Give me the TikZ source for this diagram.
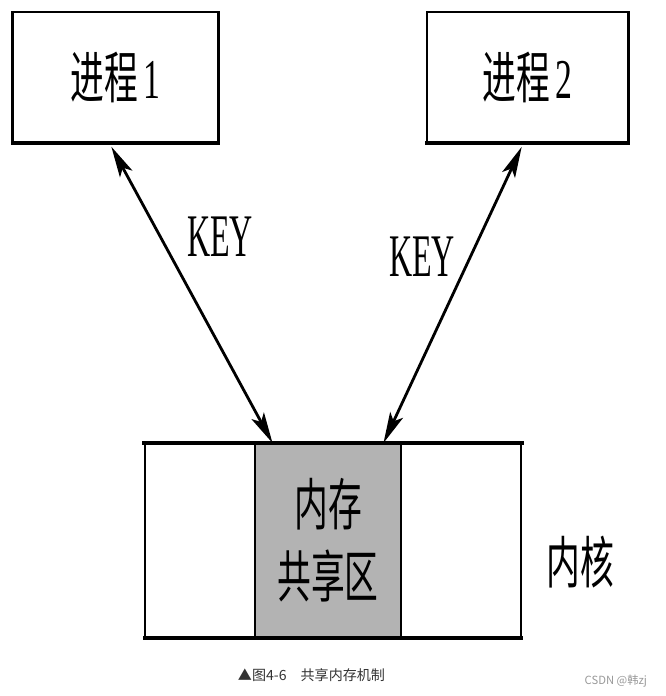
\documentclass[tikz,border=0pt]{standalone}
\usepackage{fontspec}
\usepackage{graphicx}
\setmainfont{Liberation Serif}
\newfontfamily\cjk{Noto Sans CJK SC}
\usepackage{xcolor}
\definecolor{ShmGray}{HTML}{B3B3B3}
\definecolor{CaptionGray}{HTML}{333333}
\definecolor{MarkGray}{HTML}{999999}
\usetikzlibrary{arrows.meta, positioning, calc}
\newcommand{\squeeze}[1]{\scalebox{0.6}[1]{#1}}
\tikzset{
  procbox/.style={rectangle, draw=black, line width=2.1pt, fill=white, outer sep=0pt, minimum height=3.275cm, font=\fontsize{40}{44}\selectfont, align=center},
  cellbox/.style={rectangle, draw=black, line width=1.8pt, fill=white, outer sep=0pt, minimum height=4.875cm},
  shmbox/.style={cellbox, fill=ShmGray, font=\fontsize{40}{45}\selectfont\cjk, align=center, inner sep=0pt},
  keylabel/.style={font=\fontsize{43}{46}\selectfont, inner sep=0pt},
  kernlabel/.style={font=\fontsize{40}{44}\selectfont\cjk, inner sep=0pt},
  keyarrow/.style={{Stealth[length=22pt, width=10pt, inset=5pt]}-{Stealth[length=22pt, width=10pt, inset=5pt]}, line width=2pt, shorten <=3pt},
  bottomedge/.style={line width=3.5pt, line cap=rect}
}
\begin{document}
\begin{tikzpicture}[x=0.025cm, y=-0.025cm]
  \useasboundingbox (0,0) rectangle (665,696);

  % Processes
  \node[procbox, minimum width=5.125cm] (proc1) at (115.5,77.5) {\squeeze{{\cjk 进程}\,1}};
  \node[procbox, minimum width=5.025cm] (proc2) at (527.5,77.5) {\squeeze{{\cjk 进程}\,2}};
  \draw[bottomedge] (proc1.south west) -- (proc1.south east);
  \draw[bottomedge] (proc2.south west) -- (proc2.south east);

  % Kernel
  \node[shmbox, minimum width=3.65cm] (shm) at (328,540.5) {\squeeze{内存}\\[6pt]\squeeze{共享区}};
  \node[cellbox, minimum width=2.75cm, left=0pt of shm] (kleft) {};
  \node[cellbox, minimum width=3cm, right=0pt of shm] (kright) {};
  \draw[bottomedge] (kleft.north west) -- (kright.north east);
  \draw[line width=2.8pt, line cap=rect] (kleft.south west) -- (kright.south east);
  \node[kernlabel] (kern) at (580,562) {\squeeze{内核}};

  % Keys
  \draw[keyarrow] ($(proc1.south west)!0.47!(proc1.south east)$) -- ($(shm.north west)!0.12!(shm.north east)$);
  \draw[keyarrow] ($(proc2.south west)!0.48!(proc2.south east)$) -- ($(shm.north west)!0.88!(shm.north east)$);
  \node[keylabel] (key1) at (220,237) {\scalebox{0.53}[1]{KEY}};
  \node[keylabel] (key2) at (422,257) {\scalebox{0.53}[1]{KEY}};

  % Caption
  \node[font=\fontsize{10}{12}\selectfont\cjk, text=CaptionGray, anchor=west] (caption) at (233,675) {▲图4-6\quad 共享内存机制};
  \node[font=\fontsize{8}{10}\selectfont\cjk, text=MarkGray, anchor=east] (mark) at (652,681) {CSDN @韩zj};
\end{tikzpicture}
\end{document}
